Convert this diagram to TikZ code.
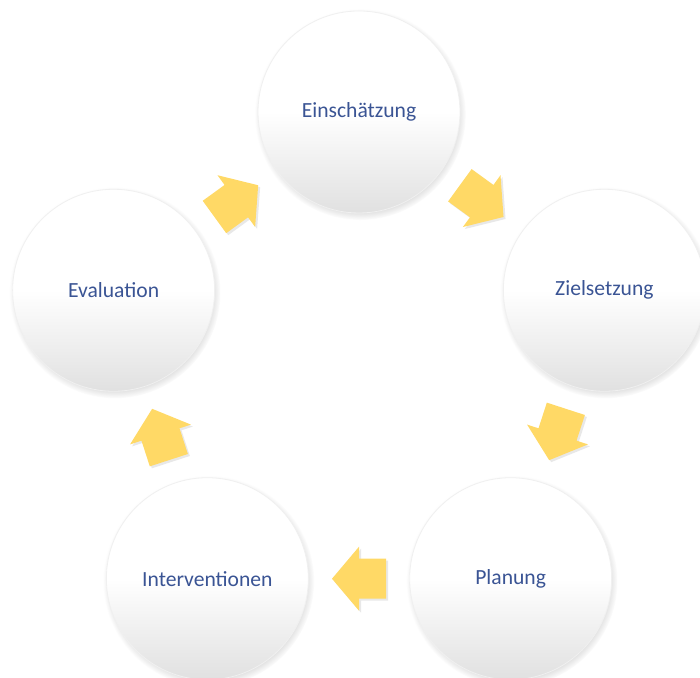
\documentclass[tikz,border=0pt]{standalone}
\usepackage{fontspec}
\setmainfont{Carlito}
\usepackage{xcolor}
\usetikzlibrary{
    calc,
    positioning,
    shadows
}
\definecolor{textblue}{RGB}{58,84,148}
\definecolor{arrowgold}{RGB}{255,217,102}

\tikzset{
    bubble/.style={circle, minimum size=101pt, inner sep=0pt,
        top color=white, bottom color=black!12, middle color=white,
        draw=black!6, line width=0.4pt,
        circular drop shadow={shadow xshift=0.6pt, shadow yshift=-1.2pt, shadow scale=1.045, opacity=0.45},
        text=textblue, font=\fontsize{10.8}{12}\selectfont},
    blockarrow/.style={fill=arrowgold, draw=none,
        drop shadow={shadow xshift=1pt, shadow yshift=-1pt, opacity=0.18}}
}

\begin{document}
\begin{tikzpicture}[x=0.5pt, y=0.5pt]
    \useasboundingbox (0, 0) rectangle (700, 678);

    \begin{scope}[shift={(359, 308)}]
        \node[bubble] (ein) at (90:258) {Einschätzung};
        \node[bubble] (zie) at (18:258) {Zielsetzung};
        \node[bubble] (pla) at (-54:258) {Planung};
        \node[bubble] (int) at (-126:258) {Interventionen};
        \node[bubble] (eva) at (162:258) {Evaluation};
    \end{scope}

    % arrows between the circles
    \foreach \a/\b/\r in {eva/ein/36, ein/zie/-36, zie/pla/-108, pla/int/180, int/eva/108} {
        \fill[blockarrow, shift={($(\a)!0.5!(\b)$)}, rotate=\r]
            (-27, -20) -- (0, -20) -- (0, -32) -- (27, 0) -- (0, 32) -- (0, 20) -- (-27, 20) -- cycle;
    }
\end{tikzpicture}
\end{document}
